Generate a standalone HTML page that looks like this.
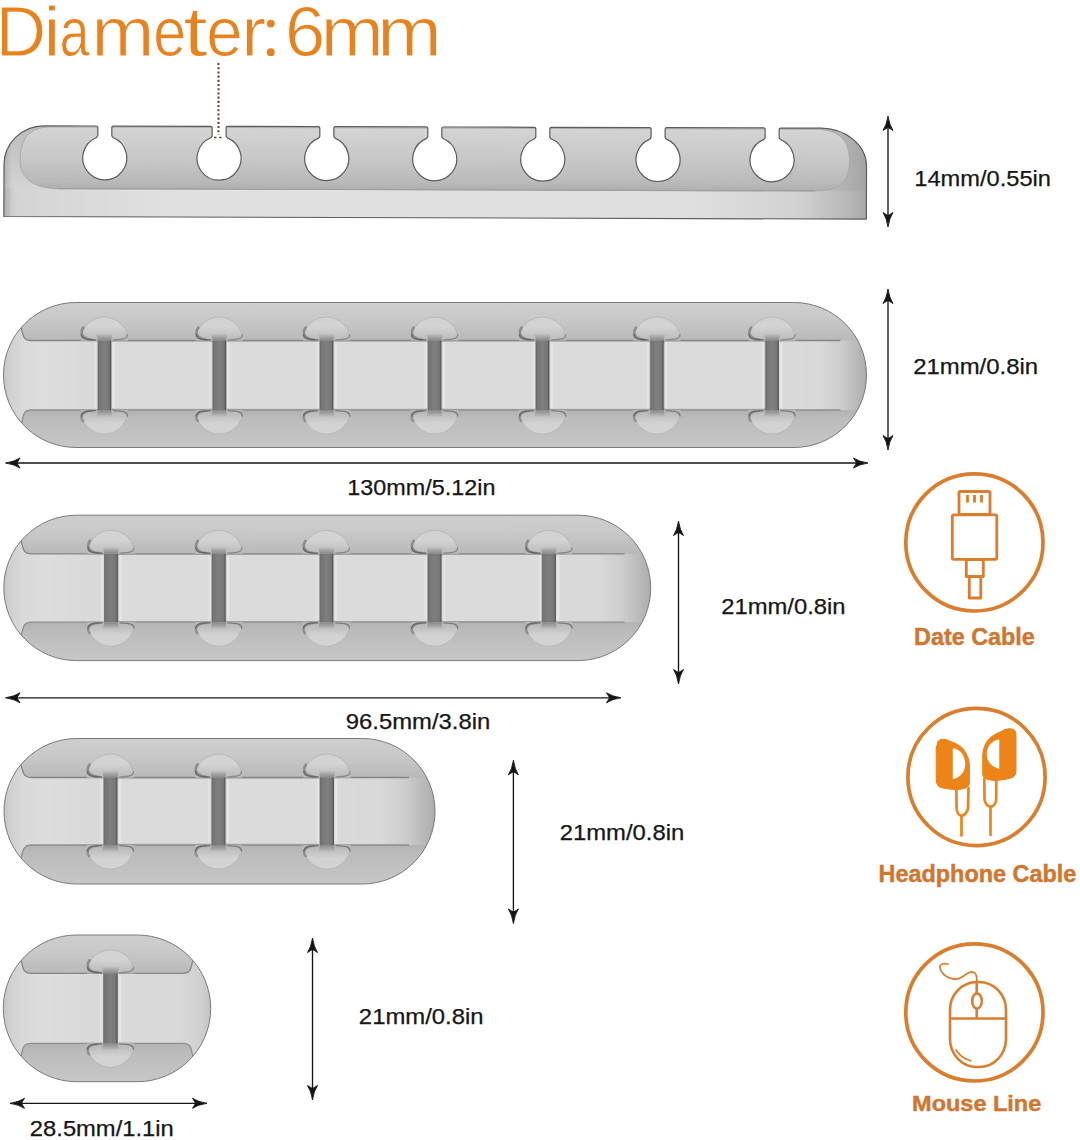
<!DOCTYPE html>
<html><head><meta charset="utf-8"><title>Cable Organizer Dimensions</title>
<style>
html,body{margin:0;padding:0;background:#ffffff;}
body{width:1080px;height:1140px;overflow:hidden;font-family:"Liberation Sans",sans-serif;}
svg{display:block;}
svg text{font-family:"Liberation Sans",sans-serif;}
</style></head>
<body>
<svg width="1080" height="1140" viewBox="0 0 1080 1140">
<defs>
<linearGradient id="rimV" x1="0" y1="0" x2="0" y2="1">
  <stop offset="0" stop-color="#cdcdcd"/>
  <stop offset="0.1" stop-color="#c8c8c8"/>
  <stop offset="0.26" stop-color="#b7b7b7"/>
  <stop offset="0.74" stop-color="#b2b2b2"/>
  <stop offset="0.8" stop-color="#b9b9b9"/>
  <stop offset="1" stop-color="#c4c4c4"/>
</linearGradient>
<linearGradient id="chanG" x1="0" y1="0" x2="1" y2="0">
  <stop offset="0" stop-color="#686868"/>
  <stop offset="0.12" stop-color="#757575"/>
  <stop offset="0.5" stop-color="#7f7f7f"/>
  <stop offset="0.85" stop-color="#767676"/>
  <stop offset="0.94" stop-color="#5c5c5c"/>
  <stop offset="1" stop-color="#505050"/>
</linearGradient>
<linearGradient id="domeT" x1="0" y1="0" x2="0" y2="1">
  <stop offset="0" stop-color="#d2d2d2"/>
  <stop offset="0.4" stop-color="#d4d4d4"/>
  <stop offset="1" stop-color="#bababa"/>
</linearGradient>
<linearGradient id="domeB" x1="0" y1="0" x2="0" y2="1">
  <stop offset="0" stop-color="#b4b4b4"/>
  <stop offset="0.55" stop-color="#d2d2d2"/>
  <stop offset="1" stop-color="#d4d4d4"/>
</linearGradient>
<linearGradient id="chanFadeT" x1="0" y1="0" x2="0" y2="1">
  <stop offset="0" stop-color="#8a8a8a" stop-opacity="0"/>
  <stop offset="1" stop-color="#8a8a8a" stop-opacity="1"/>
</linearGradient>
<linearGradient id="chanFadeB" x1="0" y1="1" x2="0" y2="0">
  <stop offset="0" stop-color="#8a8a8a" stop-opacity="0"/>
  <stop offset="1" stop-color="#8a8a8a" stop-opacity="1"/>
</linearGradient>
<linearGradient id="endL" x1="0" y1="0" x2="1" y2="0">
  <stop offset="0" stop-color="#c6c6c6"/>
  <stop offset="0.06" stop-color="#d0d0d0"/>
  <stop offset="0.2" stop-color="#d9d9d9"/>
  <stop offset="0.4" stop-color="#dddddd"/>
  <stop offset="1" stop-color="#d9d9d9"/>
</linearGradient>
<linearGradient id="endR" x1="0" y1="0" x2="1" y2="0">
  <stop offset="0" stop-color="#dadada"/>
  <stop offset="0.45" stop-color="#d9d9d9"/>
  <stop offset="0.7" stop-color="#cdcdcd"/>
  <stop offset="0.88" stop-color="#bababa"/>
  <stop offset="1" stop-color="#acacac"/>
</linearGradient>
<linearGradient id="endR5" x1="0" y1="0" x2="1" y2="0">
  <stop offset="0" stop-color="#dadada"/>
  <stop offset="0.6" stop-color="#dadada"/>
  <stop offset="0.9" stop-color="#d0d0d0"/>
  <stop offset="1" stop-color="#c2c2c2"/>
</linearGradient>
<linearGradient id="topFace" x1="0" y1="0" x2="0" y2="1">
  <stop offset="0" stop-color="#d4d4d4"/>
  <stop offset="0.5" stop-color="#c8c8c8"/>
  <stop offset="0.88" stop-color="#b9b9b9"/>
  <stop offset="1" stop-color="#afafaf"/>
</linearGradient>
<linearGradient id="sideBand" gradientUnits="userSpaceOnUse" x1="4" y1="0" x2="867" y2="0">
  <stop offset="0" stop-color="#c0c0c0"/>
  <stop offset="0.015" stop-color="#d4d4d4"/>
  <stop offset="0.2" stop-color="#e1e1e1"/>
  <stop offset="0.8" stop-color="#dfdfdf"/>
  <stop offset="0.92" stop-color="#d2d2d2"/>
  <stop offset="0.975" stop-color="#b9b9b9"/>
  <stop offset="1" stop-color="#a8a8a8"/>
</linearGradient>
<linearGradient id="lsV" x1="0" y1="0" x2="0" y2="1">
  <stop offset="0" stop-color="#bdbdbd"/>
  <stop offset="0.45" stop-color="#c6c6c6"/>
  <stop offset="1" stop-color="#d4d4d4"/>
</linearGradient>
<linearGradient id="rsH" x1="0" y1="0" x2="1" y2="0">
  <stop offset="0" stop-color="#c4c4c4"/>
  <stop offset="0.7" stop-color="#b4b4b4"/>
  <stop offset="1" stop-color="#a4a4a4"/>
</linearGradient>
<linearGradient id="ledge" x1="0" y1="0" x2="1" y2="0">
  <stop offset="0" stop-color="#b0b0b0" stop-opacity="0.9"/>
  <stop offset="1" stop-color="#b0b0b0" stop-opacity="0"/>
</linearGradient>
<linearGradient id="sideRim" gradientUnits="userSpaceOnUse" x1="4" y1="0" x2="867" y2="0">
  <stop offset="0" stop-color="#c6c6c6"/>
  <stop offset="0.03" stop-color="#cdcdcd"/>
  <stop offset="0.9" stop-color="#c4c4c4"/>
  <stop offset="0.96" stop-color="#b0b0b0"/>
  <stop offset="1" stop-color="#a4a4a4"/>
</linearGradient>
<clipPath id="ctop"><path d="M4,217.8 L4,166 A40,39 0 0 1 44,127 L96.2,127 Q97.7,127 97.7,128.5 L97.7,136.7433463853858 L96.5,138.44334638538578 A22,22 0 1 0 112.9,138.44334638538578 L111.7,136.7433463853858 L111.7,128.5 Q111.7,127 113.2,127 L210.5,127 Q212,127 212,128.5 L212,136.7433463853858 L210.8,138.44334638538578 A22,22 0 1 0 227.2,138.44334638538578 L226,136.7433463853858 L226,128.5 Q226,127 227.5,127 L318.2,127 Q319.7,127 319.7,128.5 L319.7,136.7433463853858 L318.5,138.44334638538578 A22,22 0 1 0 334.9,138.44334638538578 L333.7,136.7433463853858 L333.7,128.5 Q333.7,127 335.2,127 L426.2,127 Q427.7,127 427.7,128.5 L427.7,136.7433463853858 L426.5,138.44334638538578 A22,22 0 1 0 442.9,138.44334638538578 L441.7,136.7433463853858 L441.7,128.5 Q441.7,127 443.2,127 L534.2,127 Q535.7,127 535.7,128.5 L535.7,136.7433463853858 L534.5,138.44334638538578 A22,22 0 1 0 550.9000000000001,138.44334638538578 L549.7,136.7433463853858 L549.7,128.5 Q549.7,127 551.2,127 L649.5,127 Q651,127 651,128.5 L651,136.7433463853858 L649.8,138.44334638538578 A22,22 0 1 0 666.2,138.44334638538578 L665,136.7433463853858 L665,128.5 Q665,127 666.5,127 L763.5,127 Q765,127 765,128.5 L765,136.7433463853858 L763.8,138.44334638538578 A22,22 0 1 0 780.2,138.44334638538578 L779,136.7433463853858 L779,128.5 Q779,127 780.5,127 L820.5,127 A46,38 0 0 1 866.5,165 L866.5,217.8 Z"/></clipPath><linearGradient id="rim1" gradientUnits="userSpaceOnUse" x1="0" y1="302.5" x2="0" y2="447.5"><stop offset="0" stop-color="#cecece"/><stop offset="0.1" stop-color="#cacaca"/><stop offset="0.262" stop-color="#b9b9b9"/><stop offset="0.741" stop-color="#b2b2b2"/><stop offset="0.801" stop-color="#bbbbbb"/><stop offset="1" stop-color="#c7c7c7"/></linearGradient><clipPath id="cb1"><rect x="3.5" y="302.5" width="863.0" height="145.0" rx="72.5" ry="72.5"/></clipPath><linearGradient id="rim2" gradientUnits="userSpaceOnUse" x1="0" y1="515.2" x2="0" y2="660.6"><stop offset="0" stop-color="#cecece"/><stop offset="0.1" stop-color="#cacaca"/><stop offset="0.265" stop-color="#b9b9b9"/><stop offset="0.736" stop-color="#b2b2b2"/><stop offset="0.796" stop-color="#bbbbbb"/><stop offset="1" stop-color="#c7c7c7"/></linearGradient><clipPath id="cb2"><rect x="3.8" y="515.2" width="646.9000000000001" height="145.39999999999998" rx="72.69999999999999" ry="72.69999999999999"/></clipPath><linearGradient id="rim3" gradientUnits="userSpaceOnUse" x1="0" y1="738.5" x2="0" y2="884"><stop offset="0" stop-color="#cecece"/><stop offset="0.1" stop-color="#cacaca"/><stop offset="0.268" stop-color="#b9b9b9"/><stop offset="0.732" stop-color="#b2b2b2"/><stop offset="0.792" stop-color="#bbbbbb"/><stop offset="1" stop-color="#c7c7c7"/></linearGradient><clipPath id="cb3"><rect x="4" y="738.5" width="431" height="145.5" rx="72.75" ry="72.75"/></clipPath><linearGradient id="rim4" gradientUnits="userSpaceOnUse" x1="0" y1="935" x2="0" y2="1081.7"><stop offset="0" stop-color="#cecece"/><stop offset="0.1" stop-color="#cacaca"/><stop offset="0.261" stop-color="#b9b9b9"/><stop offset="0.738" stop-color="#b2b2b2"/><stop offset="0.798" stop-color="#bbbbbb"/><stop offset="1" stop-color="#c7c7c7"/></linearGradient><clipPath id="cb4"><rect x="3.3" y="935" width="207.39999999999998" height="146.70000000000005" rx="73.35000000000002" ry="73.35000000000002"/></clipPath></defs>
<rect width="1080" height="1140" fill="#ffffff"/>
<text x="-4.32" y="55.90" font-size="71" font-weight="normal" fill="#E8821F" textLength="50.36" lengthAdjust="spacingAndGlyphs" stroke="#ffffff" stroke-width="0.9">D</text>
<text x="43.15" y="55.90" font-size="69.5" font-weight="normal" fill="#E8821F" textLength="17.44" lengthAdjust="spacingAndGlyphs" stroke="#ffffff" stroke-width="0.9">i</text>
<text x="59.41" y="55.90" font-size="69.5" font-weight="normal" fill="#E8821F" textLength="29.99" lengthAdjust="spacingAndGlyphs" stroke="#ffffff" stroke-width="0.9">a</text>
<text x="91.49" y="55.90" font-size="69.5" font-weight="normal" fill="#E8821F" textLength="62.89" lengthAdjust="spacingAndGlyphs" stroke="#ffffff" stroke-width="0.9">m</text>
<text x="153.29" y="55.90" font-size="69.5" font-weight="normal" fill="#E8821F" textLength="32.83" lengthAdjust="spacingAndGlyphs" stroke="#ffffff" stroke-width="0.9">e</text>
<text x="183.37" y="55.90" font-size="69.5" font-weight="normal" fill="#E8821F" textLength="24.48" lengthAdjust="spacingAndGlyphs" stroke="#ffffff" stroke-width="0.9">t</text>
<text x="206.32" y="55.90" font-size="69.5" font-weight="normal" fill="#E8821F" textLength="36.39" lengthAdjust="spacingAndGlyphs" stroke="#ffffff" stroke-width="0.9">e</text>
<text x="241.23" y="55.90" font-size="69.5" font-weight="normal" fill="#E8821F" textLength="24.91" lengthAdjust="spacingAndGlyphs" stroke="#ffffff" stroke-width="0.9">r</text>
<text x="284.92" y="55.90" font-size="71" font-weight="normal" fill="#E8821F" textLength="40.26" lengthAdjust="spacingAndGlyphs" stroke="#ffffff" stroke-width="0.9">6</text>
<text x="320.68" y="55.90" font-size="69.5" font-weight="normal" fill="#E8821F" textLength="63.01" lengthAdjust="spacingAndGlyphs" stroke="#ffffff" stroke-width="0.9">m</text>
<text x="377.26" y="55.90" font-size="69.5" font-weight="normal" fill="#E8821F" textLength="64.44" lengthAdjust="spacingAndGlyphs" stroke="#ffffff" stroke-width="0.9">m</text>
<circle cx="270.8" cy="23.6" r="3.9" fill="#E8821F"/><circle cx="270.8" cy="52.2" r="3.9" fill="#E8821F"/>
<line x1="218.5" y1="63" x2="218.5" y2="135" stroke="#6a4834" stroke-width="2.1" stroke-dasharray="2.1 2.1"/>
<line x1="214" y1="137.5" x2="224" y2="137.5" stroke="#6a4834" stroke-width="1.6" stroke-dasharray="2.5 2.5"/>
<g transform="rotate(0.17 435 172)">
<path d="M4,217.8 L4,166 A40,39 0 0 1 44,127 L96.2,127 Q97.7,127 97.7,128.5 L97.7,136.7433463853858 L96.5,138.44334638538578 A22,22 0 1 0 112.9,138.44334638538578 L111.7,136.7433463853858 L111.7,128.5 Q111.7,127 113.2,127 L210.5,127 Q212,127 212,128.5 L212,136.7433463853858 L210.8,138.44334638538578 A22,22 0 1 0 227.2,138.44334638538578 L226,136.7433463853858 L226,128.5 Q226,127 227.5,127 L318.2,127 Q319.7,127 319.7,128.5 L319.7,136.7433463853858 L318.5,138.44334638538578 A22,22 0 1 0 334.9,138.44334638538578 L333.7,136.7433463853858 L333.7,128.5 Q333.7,127 335.2,127 L426.2,127 Q427.7,127 427.7,128.5 L427.7,136.7433463853858 L426.5,138.44334638538578 A22,22 0 1 0 442.9,138.44334638538578 L441.7,136.7433463853858 L441.7,128.5 Q441.7,127 443.2,127 L534.2,127 Q535.7,127 535.7,128.5 L535.7,136.7433463853858 L534.5,138.44334638538578 A22,22 0 1 0 550.9000000000001,138.44334638538578 L549.7,136.7433463853858 L549.7,128.5 Q549.7,127 551.2,127 L649.5,127 Q651,127 651,128.5 L651,136.7433463853858 L649.8,138.44334638538578 A22,22 0 1 0 666.2,138.44334638538578 L665,136.7433463853858 L665,128.5 Q665,127 666.5,127 L763.5,127 Q765,127 765,128.5 L765,136.7433463853858 L763.8,138.44334638538578 A22,22 0 1 0 780.2,138.44334638538578 L779,136.7433463853858 L779,128.5 Q779,127 780.5,127 L820.5,127 A46,38 0 0 1 866.5,165 L866.5,217.8 Z" fill="url(#sideBand)"/>
<g clip-path="url(#ctop)">
<rect x="4" y="127" width="70" height="62.5" fill="url(#lsV)"/>
<rect x="780" y="127" width="86.5" height="62.5" fill="url(#rsH)"/>
<rect x="4" y="127" width="8" height="90.80000000000001" fill="url(#ledge)"/>
<path d="M20,162 C20,141 28,128.3 50,128.1 L815,128.1 C840,128.1 849.5,140 849.5,160 C849.5,180 840,189.8 815,189.8 L58,189.8 C35,189.8 20,180 20,162 Z" fill="url(#topFace)"/>
<path d="M20,162 C20,141 28,128.3 50,128.1 L815,128.1 C840,128.1 849.5,140 849.5,160 C849.5,180 840,189.8 815,189.8 L58,189.8 C35,189.8 20,180 20,162 Z" fill="none" stroke="#a8a8a8" stroke-width="0.9"/>
<line x1="58" y1="189.8" x2="815" y2="189.8" stroke="#9e9e9e" stroke-width="1.2"/>
</g>
<path d="M4,217.8 L4,166 A40,39 0 0 1 44,127 L96.2,127 Q97.7,127 97.7,128.5 L97.7,136.7433463853858 L96.5,138.44334638538578 A22,22 0 1 0 112.9,138.44334638538578 L111.7,136.7433463853858 L111.7,128.5 Q111.7,127 113.2,127 L210.5,127 Q212,127 212,128.5 L212,136.7433463853858 L210.8,138.44334638538578 A22,22 0 1 0 227.2,138.44334638538578 L226,136.7433463853858 L226,128.5 Q226,127 227.5,127 L318.2,127 Q319.7,127 319.7,128.5 L319.7,136.7433463853858 L318.5,138.44334638538578 A22,22 0 1 0 334.9,138.44334638538578 L333.7,136.7433463853858 L333.7,128.5 Q333.7,127 335.2,127 L426.2,127 Q427.7,127 427.7,128.5 L427.7,136.7433463853858 L426.5,138.44334638538578 A22,22 0 1 0 442.9,138.44334638538578 L441.7,136.7433463853858 L441.7,128.5 Q441.7,127 443.2,127 L534.2,127 Q535.7,127 535.7,128.5 L535.7,136.7433463853858 L534.5,138.44334638538578 A22,22 0 1 0 550.9000000000001,138.44334638538578 L549.7,136.7433463853858 L549.7,128.5 Q549.7,127 551.2,127 L649.5,127 Q651,127 651,128.5 L651,136.7433463853858 L649.8,138.44334638538578 A22,22 0 1 0 666.2,138.44334638538578 L665,136.7433463853858 L665,128.5 Q665,127 666.5,127 L763.5,127 Q765,127 765,128.5 L765,136.7433463853858 L763.8,138.44334638538578 A22,22 0 1 0 780.2,138.44334638538578 L779,136.7433463853858 L779,128.5 Q779,127 780.5,127 L820.5,127 A46,38 0 0 1 866.5,165 L866.5,217.8 Z" fill="none" stroke="#5c5c5c" stroke-width="1.2" stroke-linejoin="round"/>
</g>
<line x1="888" y1="124" x2="888" y2="219" stroke="#161616" stroke-width="1.35"/>
<path d="M888,116 Q889.30,124.99 893.00,130.50 Q889.20,128.00 888.00,127.50 Q886.80,128.00 883.00,130.50 Q886.70,124.99 888,116 Z" fill="#141414" stroke="#141414" stroke-width="0.9" stroke-linejoin="round"/>
<path d="M888,227 Q886.70,218.01 883.00,212.50 Q886.80,215.00 888.00,215.50 Q889.20,215.00 893.00,212.50 Q889.30,218.01 888,227 Z" fill="#141414" stroke="#141414" stroke-width="0.9" stroke-linejoin="round"/>
<text x="914.32" y="185.90" font-size="22.5" font-weight="normal" fill="#161616" textLength="136.71" lengthAdjust="spacingAndGlyphs" stroke="#161616" stroke-width="0.25">14mm/0.55in</text>
<g clip-path="url(#cb1)">
<rect x="3.5" y="302.5" width="863.0" height="145.0" fill="#d9d9d9"/>
<rect x="3.5" y="302.5" width="94.1" height="145.0" fill="url(#endL)"/>
<rect x="778.9" y="302.5" width="87.60000000000002" height="145.0" fill="url(#endR)"/>
<path d="M31.5,340.5 C23.5,340.5 23.227744249483386,336.5 21.23,327.5 L9.23,313.5 L-1.5,297.5 L871.5,297.5 L871.5,340.5 Z" fill="url(#rim1)"/>
<path d="M31.5,410 C23.5,410 23.66538856308992,414 21.67,423 L9.67,437 L-1.5,452.5 L871.5,452.5 L871.5,410 Z" fill="url(#rim1)"/>
<path d="M21.23,327.5 C23.227744249483386,336.5 23.5,340.5 31.5,340.5 L840.5,340.5" fill="none" stroke="#858585" stroke-width="1.3"/>
<path d="M21.67,423 C23.66538856308992,414 23.5,410 31.5,410 L840.5,410" fill="none" stroke="#8e8e8e" stroke-width="1.3"/>
<path d="M80.9,340.5 C80.9,327.5 91.4,317.0 104.4,317.0 C117.4,317.0 127.9,327.5 127.9,340.5 Z" fill="url(#domeT)" stroke="#b2b2b2" stroke-width="0.8"/>
<path d="M83.4,327.5 C79.9,332.5 81.4,339.0 91.4,339.7" fill="none" stroke="#8c8c8c" stroke-width="2.6" stroke-linecap="round"/>
<path d="M81.4,334.5 C81.4,338.5 85.4,339.7 95.4,339.9" fill="none" stroke="#686868" stroke-width="1.4" stroke-linecap="round"/>
<path d="M127.4,334.5 C127.4,338.5 123.4,339.7 113.4,339.9" fill="none" stroke="#8a8a8a" stroke-width="1.2" stroke-linecap="round"/>
<path d="M80.9,410 C80.9,423 91.4,434 104.4,434 C117.4,434 127.9,423 127.9,410 Z" fill="url(#domeB)" stroke="#b6b6b6" stroke-width="0.8"/>
<path d="M82.9,421 C79.9,417 81.4,411.5 91.4,410.8" fill="none" stroke="#909090" stroke-width="2.4" stroke-linecap="round"/>
<path d="M81.4,416 C81.4,412 85.4,410.8 95.4,410.6" fill="none" stroke="#6c6c6c" stroke-width="1.4" stroke-linecap="round"/>
<path d="M127.4,416 C127.4,412 123.4,410.8 113.4,410.6" fill="none" stroke="#7c7c7c" stroke-width="1.3" stroke-linecap="round"/>
<path d="M195.8,340.5 C195.8,327.5 206.3,317.0 219.3,317.0 C232.3,317.0 242.8,327.5 242.8,340.5 Z" fill="url(#domeT)" stroke="#b2b2b2" stroke-width="0.8"/>
<path d="M198.3,327.5 C194.8,332.5 196.3,339.0 206.3,339.7" fill="none" stroke="#8c8c8c" stroke-width="2.6" stroke-linecap="round"/>
<path d="M196.3,334.5 C196.3,338.5 200.3,339.7 210.3,339.9" fill="none" stroke="#686868" stroke-width="1.4" stroke-linecap="round"/>
<path d="M242.3,334.5 C242.3,338.5 238.3,339.7 228.3,339.9" fill="none" stroke="#8a8a8a" stroke-width="1.2" stroke-linecap="round"/>
<path d="M195.8,410 C195.8,423 206.3,434 219.3,434 C232.3,434 242.8,423 242.8,410 Z" fill="url(#domeB)" stroke="#b6b6b6" stroke-width="0.8"/>
<path d="M197.8,421 C194.8,417 196.3,411.5 206.3,410.8" fill="none" stroke="#909090" stroke-width="2.4" stroke-linecap="round"/>
<path d="M196.3,416 C196.3,412 200.3,410.8 210.3,410.6" fill="none" stroke="#6c6c6c" stroke-width="1.4" stroke-linecap="round"/>
<path d="M242.3,416 C242.3,412 238.3,410.8 228.3,410.6" fill="none" stroke="#7c7c7c" stroke-width="1.3" stroke-linecap="round"/>
<path d="M303.1,340.5 C303.1,327.5 313.6,317.0 326.6,317.0 C339.6,317.0 350.1,327.5 350.1,340.5 Z" fill="url(#domeT)" stroke="#b2b2b2" stroke-width="0.8"/>
<path d="M305.6,327.5 C302.1,332.5 303.6,339.0 313.6,339.7" fill="none" stroke="#8c8c8c" stroke-width="2.6" stroke-linecap="round"/>
<path d="M303.6,334.5 C303.6,338.5 307.6,339.7 317.6,339.9" fill="none" stroke="#686868" stroke-width="1.4" stroke-linecap="round"/>
<path d="M349.6,334.5 C349.6,338.5 345.6,339.7 335.6,339.9" fill="none" stroke="#8a8a8a" stroke-width="1.2" stroke-linecap="round"/>
<path d="M303.1,410 C303.1,423 313.6,434 326.6,434 C339.6,434 350.1,423 350.1,410 Z" fill="url(#domeB)" stroke="#b6b6b6" stroke-width="0.8"/>
<path d="M305.1,421 C302.1,417 303.6,411.5 313.6,410.8" fill="none" stroke="#909090" stroke-width="2.4" stroke-linecap="round"/>
<path d="M303.6,416 C303.6,412 307.6,410.8 317.6,410.6" fill="none" stroke="#6c6c6c" stroke-width="1.4" stroke-linecap="round"/>
<path d="M349.6,416 C349.6,412 345.6,410.8 335.6,410.6" fill="none" stroke="#7c7c7c" stroke-width="1.3" stroke-linecap="round"/>
<path d="M411.2,340.5 C411.2,327.5 421.7,317.0 434.7,317.0 C447.7,317.0 458.2,327.5 458.2,340.5 Z" fill="url(#domeT)" stroke="#b2b2b2" stroke-width="0.8"/>
<path d="M413.7,327.5 C410.2,332.5 411.7,339.0 421.7,339.7" fill="none" stroke="#8c8c8c" stroke-width="2.6" stroke-linecap="round"/>
<path d="M411.7,334.5 C411.7,338.5 415.7,339.7 425.7,339.9" fill="none" stroke="#686868" stroke-width="1.4" stroke-linecap="round"/>
<path d="M457.7,334.5 C457.7,338.5 453.7,339.7 443.7,339.9" fill="none" stroke="#8a8a8a" stroke-width="1.2" stroke-linecap="round"/>
<path d="M411.2,410 C411.2,423 421.7,434 434.7,434 C447.7,434 458.2,423 458.2,410 Z" fill="url(#domeB)" stroke="#b6b6b6" stroke-width="0.8"/>
<path d="M413.2,421 C410.2,417 411.7,411.5 421.7,410.8" fill="none" stroke="#909090" stroke-width="2.4" stroke-linecap="round"/>
<path d="M411.7,416 C411.7,412 415.7,410.8 425.7,410.6" fill="none" stroke="#6c6c6c" stroke-width="1.4" stroke-linecap="round"/>
<path d="M457.7,416 C457.7,412 453.7,410.8 443.7,410.6" fill="none" stroke="#7c7c7c" stroke-width="1.3" stroke-linecap="round"/>
<path d="M519.1,340.5 C519.1,327.5 529.6,317.0 542.6,317.0 C555.6,317.0 566.1,327.5 566.1,340.5 Z" fill="url(#domeT)" stroke="#b2b2b2" stroke-width="0.8"/>
<path d="M521.6,327.5 C518.1,332.5 519.6,339.0 529.6,339.7" fill="none" stroke="#8c8c8c" stroke-width="2.6" stroke-linecap="round"/>
<path d="M519.6,334.5 C519.6,338.5 523.6,339.7 533.6,339.9" fill="none" stroke="#686868" stroke-width="1.4" stroke-linecap="round"/>
<path d="M565.6,334.5 C565.6,338.5 561.6,339.7 551.6,339.9" fill="none" stroke="#8a8a8a" stroke-width="1.2" stroke-linecap="round"/>
<path d="M519.1,410 C519.1,423 529.6,434 542.6,434 C555.6,434 566.1,423 566.1,410 Z" fill="url(#domeB)" stroke="#b6b6b6" stroke-width="0.8"/>
<path d="M521.1,421 C518.1,417 519.6,411.5 529.6,410.8" fill="none" stroke="#909090" stroke-width="2.4" stroke-linecap="round"/>
<path d="M519.6,416 C519.6,412 523.6,410.8 533.6,410.6" fill="none" stroke="#6c6c6c" stroke-width="1.4" stroke-linecap="round"/>
<path d="M565.6,416 C565.6,412 561.6,410.8 551.6,410.6" fill="none" stroke="#7c7c7c" stroke-width="1.3" stroke-linecap="round"/>
<path d="M633.5,340.5 C633.5,327.5 644,317.0 657,317.0 C670,317.0 680.5,327.5 680.5,340.5 Z" fill="url(#domeT)" stroke="#b2b2b2" stroke-width="0.8"/>
<path d="M636,327.5 C632.5,332.5 634,339.0 644,339.7" fill="none" stroke="#8c8c8c" stroke-width="2.6" stroke-linecap="round"/>
<path d="M634,334.5 C634,338.5 638,339.7 648,339.9" fill="none" stroke="#686868" stroke-width="1.4" stroke-linecap="round"/>
<path d="M680,334.5 C680,338.5 676,339.7 666,339.9" fill="none" stroke="#8a8a8a" stroke-width="1.2" stroke-linecap="round"/>
<path d="M633.5,410 C633.5,423 644,434 657,434 C670,434 680.5,423 680.5,410 Z" fill="url(#domeB)" stroke="#b6b6b6" stroke-width="0.8"/>
<path d="M635.5,421 C632.5,417 634,411.5 644,410.8" fill="none" stroke="#909090" stroke-width="2.4" stroke-linecap="round"/>
<path d="M634,416 C634,412 638,410.8 648,410.6" fill="none" stroke="#6c6c6c" stroke-width="1.4" stroke-linecap="round"/>
<path d="M680,416 C680,412 676,410.8 666,410.6" fill="none" stroke="#7c7c7c" stroke-width="1.3" stroke-linecap="round"/>
<path d="M748.6,340.5 C748.6,327.5 759.1,317.0 772.1,317.0 C785.1,317.0 795.6,327.5 795.6,340.5 Z" fill="url(#domeT)" stroke="#b2b2b2" stroke-width="0.8"/>
<path d="M751.1,327.5 C747.6,332.5 749.1,339.0 759.1,339.7" fill="none" stroke="#8c8c8c" stroke-width="2.6" stroke-linecap="round"/>
<path d="M749.1,334.5 C749.1,338.5 753.1,339.7 763.1,339.9" fill="none" stroke="#686868" stroke-width="1.4" stroke-linecap="round"/>
<path d="M795.1,334.5 C795.1,338.5 791.1,339.7 781.1,339.9" fill="none" stroke="#8a8a8a" stroke-width="1.2" stroke-linecap="round"/>
<path d="M748.6,410 C748.6,423 759.1,434 772.1,434 C785.1,434 795.6,423 795.6,410 Z" fill="url(#domeB)" stroke="#b6b6b6" stroke-width="0.8"/>
<path d="M750.6,421 C747.6,417 749.1,411.5 759.1,410.8" fill="none" stroke="#909090" stroke-width="2.4" stroke-linecap="round"/>
<path d="M749.1,416 C749.1,412 753.1,410.8 763.1,410.6" fill="none" stroke="#6c6c6c" stroke-width="1.4" stroke-linecap="round"/>
<path d="M795.1,416 C795.1,412 791.1,410.8 781.1,410.6" fill="none" stroke="#7c7c7c" stroke-width="1.3" stroke-linecap="round"/>
<path d="M97.6,340.5 L96.39999999999999,333.5 L112.4,333.5 L111.2,340.5 Z" fill="url(#chanFadeT)"/>
<path d="M97.6,410 L96.39999999999999,417 L112.4,417 L111.2,410 Z" fill="url(#chanFadeB)"/>
<rect x="97.6" y="340.5" width="13.600000000000009" height="69.5" fill="url(#chanG)"/>
<path d="M212.5,340.5 L211.3,333.5 L227.29999999999998,333.5 L226.1,340.5 Z" fill="url(#chanFadeT)"/>
<path d="M212.5,410 L211.3,417 L227.29999999999998,417 L226.1,410 Z" fill="url(#chanFadeB)"/>
<rect x="212.5" y="340.5" width="13.599999999999994" height="69.5" fill="url(#chanG)"/>
<path d="M319.8,340.5 L318.6,333.5 L334.59999999999997,333.5 L333.4,340.5 Z" fill="url(#chanFadeT)"/>
<path d="M319.8,410 L318.6,417 L334.59999999999997,417 L333.4,410 Z" fill="url(#chanFadeB)"/>
<rect x="319.8" y="340.5" width="13.599999999999966" height="69.5" fill="url(#chanG)"/>
<path d="M427.9,340.5 L426.7,333.5 L442.7,333.5 L441.5,340.5 Z" fill="url(#chanFadeT)"/>
<path d="M427.9,410 L426.7,417 L442.7,417 L441.5,410 Z" fill="url(#chanFadeB)"/>
<rect x="427.9" y="340.5" width="13.600000000000023" height="69.5" fill="url(#chanG)"/>
<path d="M535.8,340.5 L534.5999999999999,333.5 L550.6,333.5 L549.4,340.5 Z" fill="url(#chanFadeT)"/>
<path d="M535.8,410 L534.5999999999999,417 L550.6,417 L549.4,410 Z" fill="url(#chanFadeB)"/>
<rect x="535.8" y="340.5" width="13.600000000000023" height="69.5" fill="url(#chanG)"/>
<path d="M650.2,340.5 L649.0,333.5 L665.0,333.5 L663.8,340.5 Z" fill="url(#chanFadeT)"/>
<path d="M650.2,410 L649.0,417 L665.0,417 L663.8,410 Z" fill="url(#chanFadeB)"/>
<rect x="650.2" y="340.5" width="13.599999999999909" height="69.5" fill="url(#chanG)"/>
<path d="M765.3,340.5 L764.0999999999999,333.5 L780.1,333.5 L778.9,340.5 Z" fill="url(#chanFadeT)"/>
<path d="M765.3,410 L764.0999999999999,417 L780.1,417 L778.9,410 Z" fill="url(#chanFadeB)"/>
<rect x="765.3" y="340.5" width="13.600000000000023" height="69.5" fill="url(#chanG)"/>
<rect x="111.5" y="341.2" width="100.7" height="68.1" rx="1.6" fill="#dbdbdb" stroke="#8a8a8a" stroke-width="0.6"/>
<rect x="226.4" y="341.2" width="93.10000000000002" height="68.1" rx="1.6" fill="#dbdbdb" stroke="#8a8a8a" stroke-width="0.6"/>
<rect x="333.7" y="341.2" width="93.9" height="68.1" rx="1.6" fill="#dbdbdb" stroke="#8a8a8a" stroke-width="0.6"/>
<rect x="441.8" y="341.2" width="93.69999999999996" height="68.1" rx="1.6" fill="#dbdbdb" stroke="#8a8a8a" stroke-width="0.6"/>
<rect x="549.6999999999999" y="341.2" width="100.20000000000007" height="68.1" rx="1.6" fill="#dbdbdb" stroke="#8a8a8a" stroke-width="0.6"/>
<rect x="664.0999999999999" y="341.2" width="100.9" height="68.1" rx="1.6" fill="#dbdbdb" stroke="#8a8a8a" stroke-width="0.6"/>
<rect x="94.39999999999999" y="342.5" width="2.2" height="65.5" fill="#e4e4e4"/>
<rect x="112.2" y="342.5" width="2.4" height="65.5" fill="#e6e6e6"/>
<rect x="209.3" y="342.5" width="2.2" height="65.5" fill="#e4e4e4"/>
<rect x="227.1" y="342.5" width="2.4" height="65.5" fill="#e6e6e6"/>
<rect x="316.6" y="342.5" width="2.2" height="65.5" fill="#e4e4e4"/>
<rect x="334.4" y="342.5" width="2.4" height="65.5" fill="#e6e6e6"/>
<rect x="424.7" y="342.5" width="2.2" height="65.5" fill="#e4e4e4"/>
<rect x="442.5" y="342.5" width="2.4" height="65.5" fill="#e6e6e6"/>
<rect x="532.5999999999999" y="342.5" width="2.2" height="65.5" fill="#e4e4e4"/>
<rect x="550.4" y="342.5" width="2.4" height="65.5" fill="#e6e6e6"/>
<rect x="647.0" y="342.5" width="2.2" height="65.5" fill="#e4e4e4"/>
<rect x="664.8" y="342.5" width="2.4" height="65.5" fill="#e6e6e6"/>
<rect x="762.0999999999999" y="342.5" width="2.2" height="65.5" fill="#e4e4e4"/>
<rect x="779.9" y="342.5" width="2.4" height="65.5" fill="#e6e6e6"/>
</g>
<rect x="3.5" y="302.5" width="863.0" height="145.0" rx="72.5" ry="72.5" fill="none" stroke="#7c7c7c" stroke-width="1"/>
<line x1="888" y1="297" x2="888" y2="442" stroke="#161616" stroke-width="1.35"/>
<path d="M888,289 Q889.30,297.99 893.00,303.50 Q889.20,301.00 888.00,300.50 Q886.80,301.00 883.00,303.50 Q886.70,297.99 888,289 Z" fill="#141414" stroke="#141414" stroke-width="0.9" stroke-linejoin="round"/>
<path d="M888,450 Q886.70,441.01 883.00,435.50 Q886.80,438.00 888.00,438.50 Q889.20,438.00 893.00,435.50 Q889.30,441.01 888,450 Z" fill="#141414" stroke="#141414" stroke-width="0.9" stroke-linejoin="round"/>
<text x="913.18" y="374.00" font-size="22.5" font-weight="normal" fill="#161616" textLength="124.86" lengthAdjust="spacingAndGlyphs" stroke="#161616" stroke-width="0.25">21mm/0.8in</text>
<line x1="13.5" y1="463" x2="860" y2="463" stroke="#161616" stroke-width="1.35"/>
<path d="M5.5,463 Q14.49,461.70 20.00,458.00 Q17.50,461.80 17.00,463.00 Q17.50,464.20 20.00,468.00 Q14.49,464.30 5.5,463 Z" fill="#141414" stroke="#141414" stroke-width="0.9" stroke-linejoin="round"/>
<path d="M868,463 Q859.01,464.30 853.50,468.00 Q856.00,464.20 856.50,463.00 Q856.00,461.80 853.50,458.00 Q859.01,461.70 868,463 Z" fill="#141414" stroke="#141414" stroke-width="0.9" stroke-linejoin="round"/>
<text x="347.34" y="494.70" font-size="22.5" font-weight="normal" fill="#161616" textLength="148.07" lengthAdjust="spacingAndGlyphs" stroke="#161616" stroke-width="0.25">130mm/5.12in</text>
<g clip-path="url(#cb2)">
<rect x="3.8" y="515.2" width="646.9000000000001" height="145.39999999999998" fill="#d9d9d9"/>
<rect x="3.8" y="515.2" width="100.3" height="145.39999999999998" fill="url(#endL)"/>
<rect x="555.9" y="515.2" width="94.80000000000007" height="145.39999999999998" fill="url(#endR)"/>
<path d="M31.8,553.8 C23.8,553.8 23.120581440394425,549.8 21.12,540.8 L9.12,526.8 L-1.2000000000000002,510.20000000000005 L655.7,510.20000000000005 L655.7,553.8 Z" fill="url(#rim2)"/>
<path d="M31.8,622.2 C23.8,622.2 23.291305032630923,626.2 21.29,635.2 L9.29,649.2 L-1.2000000000000002,665.6 L655.7,665.6 L655.7,622.2 Z" fill="url(#rim2)"/>
<path d="M21.12,540.8 C23.120581440394425,549.8 23.8,553.8 31.8,553.8 L624.7,553.8" fill="none" stroke="#858585" stroke-width="1.3"/>
<path d="M21.29,635.2 C23.291305032630923,626.2 23.8,622.2 31.8,622.2 L624.7,622.2" fill="none" stroke="#8e8e8e" stroke-width="1.3"/>
<path d="M87.5,553.8 C87.5,540.8 98,530.3 111,530.3 C124,530.3 134.5,540.8 134.5,553.8 Z" fill="url(#domeT)" stroke="#b2b2b2" stroke-width="0.8"/>
<path d="M90,540.8 C86.5,545.8 88,552.3 98,553.0" fill="none" stroke="#8c8c8c" stroke-width="2.6" stroke-linecap="round"/>
<path d="M88,547.8 C88,551.8 92,553.0 102,553.1999999999999" fill="none" stroke="#686868" stroke-width="1.4" stroke-linecap="round"/>
<path d="M134,547.8 C134,551.8 130,553.0 120,553.1999999999999" fill="none" stroke="#8a8a8a" stroke-width="1.2" stroke-linecap="round"/>
<path d="M87.5,622.2 C87.5,635.2 98,646.2 111,646.2 C124,646.2 134.5,635.2 134.5,622.2 Z" fill="url(#domeB)" stroke="#b6b6b6" stroke-width="0.8"/>
<path d="M89.5,633.2 C86.5,629.2 88,623.7 98,623.0" fill="none" stroke="#909090" stroke-width="2.4" stroke-linecap="round"/>
<path d="M88,628.2 C88,624.2 92,623.0 102,622.8000000000001" fill="none" stroke="#6c6c6c" stroke-width="1.4" stroke-linecap="round"/>
<path d="M134,628.2 C134,624.2 130,623.0 120,622.8000000000001" fill="none" stroke="#7c7c7c" stroke-width="1.3" stroke-linecap="round"/>
<path d="M195.3,553.8 C195.3,540.8 205.8,530.3 218.8,530.3 C231.8,530.3 242.3,540.8 242.3,553.8 Z" fill="url(#domeT)" stroke="#b2b2b2" stroke-width="0.8"/>
<path d="M197.8,540.8 C194.3,545.8 195.8,552.3 205.8,553.0" fill="none" stroke="#8c8c8c" stroke-width="2.6" stroke-linecap="round"/>
<path d="M195.8,547.8 C195.8,551.8 199.8,553.0 209.8,553.1999999999999" fill="none" stroke="#686868" stroke-width="1.4" stroke-linecap="round"/>
<path d="M241.8,547.8 C241.8,551.8 237.8,553.0 227.8,553.1999999999999" fill="none" stroke="#8a8a8a" stroke-width="1.2" stroke-linecap="round"/>
<path d="M195.3,622.2 C195.3,635.2 205.8,646.2 218.8,646.2 C231.8,646.2 242.3,635.2 242.3,622.2 Z" fill="url(#domeB)" stroke="#b6b6b6" stroke-width="0.8"/>
<path d="M197.3,633.2 C194.3,629.2 195.8,623.7 205.8,623.0" fill="none" stroke="#909090" stroke-width="2.4" stroke-linecap="round"/>
<path d="M195.8,628.2 C195.8,624.2 199.8,623.0 209.8,622.8000000000001" fill="none" stroke="#6c6c6c" stroke-width="1.4" stroke-linecap="round"/>
<path d="M241.8,628.2 C241.8,624.2 237.8,623.0 227.8,622.8000000000001" fill="none" stroke="#7c7c7c" stroke-width="1.3" stroke-linecap="round"/>
<path d="M303.0,553.8 C303.0,540.8 313.5,530.3 326.5,530.3 C339.5,530.3 350.0,540.8 350.0,553.8 Z" fill="url(#domeT)" stroke="#b2b2b2" stroke-width="0.8"/>
<path d="M305.5,540.8 C302.0,545.8 303.5,552.3 313.5,553.0" fill="none" stroke="#8c8c8c" stroke-width="2.6" stroke-linecap="round"/>
<path d="M303.5,547.8 C303.5,551.8 307.5,553.0 317.5,553.1999999999999" fill="none" stroke="#686868" stroke-width="1.4" stroke-linecap="round"/>
<path d="M349.5,547.8 C349.5,551.8 345.5,553.0 335.5,553.1999999999999" fill="none" stroke="#8a8a8a" stroke-width="1.2" stroke-linecap="round"/>
<path d="M303.0,622.2 C303.0,635.2 313.5,646.2 326.5,646.2 C339.5,646.2 350.0,635.2 350.0,622.2 Z" fill="url(#domeB)" stroke="#b6b6b6" stroke-width="0.8"/>
<path d="M305.0,633.2 C302.0,629.2 303.5,623.7 313.5,623.0" fill="none" stroke="#909090" stroke-width="2.4" stroke-linecap="round"/>
<path d="M303.5,628.2 C303.5,624.2 307.5,623.0 317.5,622.8000000000001" fill="none" stroke="#6c6c6c" stroke-width="1.4" stroke-linecap="round"/>
<path d="M349.5,628.2 C349.5,624.2 345.5,623.0 335.5,622.8000000000001" fill="none" stroke="#7c7c7c" stroke-width="1.3" stroke-linecap="round"/>
<path d="M411.2,553.8 C411.2,540.8 421.7,530.3 434.7,530.3 C447.7,530.3 458.2,540.8 458.2,553.8 Z" fill="url(#domeT)" stroke="#b2b2b2" stroke-width="0.8"/>
<path d="M413.7,540.8 C410.2,545.8 411.7,552.3 421.7,553.0" fill="none" stroke="#8c8c8c" stroke-width="2.6" stroke-linecap="round"/>
<path d="M411.7,547.8 C411.7,551.8 415.7,553.0 425.7,553.1999999999999" fill="none" stroke="#686868" stroke-width="1.4" stroke-linecap="round"/>
<path d="M457.7,547.8 C457.7,551.8 453.7,553.0 443.7,553.1999999999999" fill="none" stroke="#8a8a8a" stroke-width="1.2" stroke-linecap="round"/>
<path d="M411.2,622.2 C411.2,635.2 421.7,646.2 434.7,646.2 C447.7,646.2 458.2,635.2 458.2,622.2 Z" fill="url(#domeB)" stroke="#b6b6b6" stroke-width="0.8"/>
<path d="M413.2,633.2 C410.2,629.2 411.7,623.7 421.7,623.0" fill="none" stroke="#909090" stroke-width="2.4" stroke-linecap="round"/>
<path d="M411.7,628.2 C411.7,624.2 415.7,623.0 425.7,622.8000000000001" fill="none" stroke="#6c6c6c" stroke-width="1.4" stroke-linecap="round"/>
<path d="M457.7,628.2 C457.7,624.2 453.7,623.0 443.7,622.8000000000001" fill="none" stroke="#7c7c7c" stroke-width="1.3" stroke-linecap="round"/>
<path d="M525.5,553.8 C525.5,540.8 536,530.3 549,530.3 C562,530.3 572.5,540.8 572.5,553.8 Z" fill="url(#domeT)" stroke="#b2b2b2" stroke-width="0.8"/>
<path d="M528,540.8 C524.5,545.8 526,552.3 536,553.0" fill="none" stroke="#8c8c8c" stroke-width="2.6" stroke-linecap="round"/>
<path d="M526,547.8 C526,551.8 530,553.0 540,553.1999999999999" fill="none" stroke="#686868" stroke-width="1.4" stroke-linecap="round"/>
<path d="M572,547.8 C572,551.8 568,553.0 558,553.1999999999999" fill="none" stroke="#8a8a8a" stroke-width="1.2" stroke-linecap="round"/>
<path d="M525.5,622.2 C525.5,635.2 536,646.2 549,646.2 C562,646.2 572.5,635.2 572.5,622.2 Z" fill="url(#domeB)" stroke="#b6b6b6" stroke-width="0.8"/>
<path d="M527.5,633.2 C524.5,629.2 526,623.7 536,623.0" fill="none" stroke="#909090" stroke-width="2.4" stroke-linecap="round"/>
<path d="M526,628.2 C526,624.2 530,623.0 540,622.8000000000001" fill="none" stroke="#6c6c6c" stroke-width="1.4" stroke-linecap="round"/>
<path d="M572,628.2 C572,624.2 568,623.0 558,622.8000000000001" fill="none" stroke="#7c7c7c" stroke-width="1.3" stroke-linecap="round"/>
<path d="M104.1,553.8 L102.89999999999999,546.8 L119.10000000000001,546.8 L117.9,553.8 Z" fill="url(#chanFadeT)"/>
<path d="M104.1,622.2 L102.89999999999999,629.2 L119.10000000000001,629.2 L117.9,622.2 Z" fill="url(#chanFadeB)"/>
<rect x="104.1" y="553.8" width="13.800000000000011" height="68.40000000000009" fill="url(#chanG)"/>
<path d="M211.9,553.8 L210.70000000000002,546.8 L226.89999999999998,546.8 L225.7,553.8 Z" fill="url(#chanFadeT)"/>
<path d="M211.9,622.2 L210.70000000000002,629.2 L226.89999999999998,629.2 L225.7,622.2 Z" fill="url(#chanFadeB)"/>
<rect x="211.9" y="553.8" width="13.799999999999983" height="68.40000000000009" fill="url(#chanG)"/>
<path d="M319.6,553.8 L318.40000000000003,546.8 L334.59999999999997,546.8 L333.4,553.8 Z" fill="url(#chanFadeT)"/>
<path d="M319.6,622.2 L318.40000000000003,629.2 L334.59999999999997,629.2 L333.4,622.2 Z" fill="url(#chanFadeB)"/>
<rect x="319.6" y="553.8" width="13.799999999999955" height="68.40000000000009" fill="url(#chanG)"/>
<path d="M427.8,553.8 L426.6,546.8 L442.8,546.8 L441.6,553.8 Z" fill="url(#chanFadeT)"/>
<path d="M427.8,622.2 L426.6,629.2 L442.8,629.2 L441.6,622.2 Z" fill="url(#chanFadeB)"/>
<rect x="427.8" y="553.8" width="13.800000000000011" height="68.40000000000009" fill="url(#chanG)"/>
<path d="M542.1,553.8 L540.9,546.8 L557.1,546.8 L555.9,553.8 Z" fill="url(#chanFadeT)"/>
<path d="M542.1,622.2 L540.9,629.2 L557.1,629.2 L555.9,622.2 Z" fill="url(#chanFadeB)"/>
<rect x="542.1" y="553.8" width="13.799999999999955" height="68.40000000000009" fill="url(#chanG)"/>
<rect x="118.2" y="554.5" width="93.4" height="67.00000000000009" rx="1.6" fill="#dbdbdb" stroke="#8a8a8a" stroke-width="0.6"/>
<rect x="226.0" y="554.5" width="93.30000000000004" height="67.00000000000009" rx="1.6" fill="#dbdbdb" stroke="#8a8a8a" stroke-width="0.6"/>
<rect x="333.7" y="554.5" width="93.80000000000004" height="67.00000000000009" rx="1.6" fill="#dbdbdb" stroke="#8a8a8a" stroke-width="0.6"/>
<rect x="441.90000000000003" y="554.5" width="99.9" height="67.00000000000009" rx="1.6" fill="#dbdbdb" stroke="#8a8a8a" stroke-width="0.6"/>
<rect x="100.89999999999999" y="555.8" width="2.2" height="64.40000000000009" fill="#e4e4e4"/>
<rect x="118.9" y="555.8" width="2.4" height="64.40000000000009" fill="#e6e6e6"/>
<rect x="208.70000000000002" y="555.8" width="2.2" height="64.40000000000009" fill="#e4e4e4"/>
<rect x="226.7" y="555.8" width="2.4" height="64.40000000000009" fill="#e6e6e6"/>
<rect x="316.40000000000003" y="555.8" width="2.2" height="64.40000000000009" fill="#e4e4e4"/>
<rect x="334.4" y="555.8" width="2.4" height="64.40000000000009" fill="#e6e6e6"/>
<rect x="424.6" y="555.8" width="2.2" height="64.40000000000009" fill="#e4e4e4"/>
<rect x="442.6" y="555.8" width="2.4" height="64.40000000000009" fill="#e6e6e6"/>
<rect x="538.9" y="555.8" width="2.2" height="64.40000000000009" fill="#e4e4e4"/>
<rect x="556.9" y="555.8" width="2.4" height="64.40000000000009" fill="#e6e6e6"/>
</g>
<rect x="3.8" y="515.2" width="646.9000000000001" height="145.39999999999998" rx="72.69999999999999" ry="72.69999999999999" fill="none" stroke="#7c7c7c" stroke-width="1"/>
<line x1="678.5" y1="529" x2="678.5" y2="676" stroke="#161616" stroke-width="1.35"/>
<path d="M678.5,521 Q679.80,529.99 683.50,535.50 Q679.70,533.00 678.50,532.50 Q677.30,533.00 673.50,535.50 Q677.20,529.99 678.5,521 Z" fill="#141414" stroke="#141414" stroke-width="0.9" stroke-linejoin="round"/>
<path d="M678.5,684 Q677.20,675.01 673.50,669.50 Q677.30,672.00 678.50,672.50 Q679.70,672.00 683.50,669.50 Q679.80,675.01 678.5,684 Z" fill="#141414" stroke="#141414" stroke-width="0.9" stroke-linejoin="round"/>
<text x="721.18" y="614.10" font-size="22.5" font-weight="normal" fill="#161616" textLength="124.35" lengthAdjust="spacingAndGlyphs" stroke="#161616" stroke-width="0.25">21mm/0.8in</text>
<line x1="13.5" y1="697.8" x2="613" y2="697.8" stroke="#161616" stroke-width="1.35"/>
<path d="M5.5,697.8 Q14.49,696.50 20.00,692.80 Q17.50,696.60 17.00,697.80 Q17.50,699.00 20.00,702.80 Q14.49,699.10 5.5,697.8 Z" fill="#141414" stroke="#141414" stroke-width="0.9" stroke-linejoin="round"/>
<path d="M621,697.8 Q612.01,699.10 606.50,702.80 Q609.00,699.00 609.50,697.80 Q609.00,696.60 606.50,692.80 Q612.01,696.50 621,697.8 Z" fill="#141414" stroke="#141414" stroke-width="0.9" stroke-linejoin="round"/>
<text x="345.88" y="728.90" font-size="22.5" font-weight="normal" fill="#161616" textLength="144.35" lengthAdjust="spacingAndGlyphs" stroke="#161616" stroke-width="0.25">96.5mm/3.8in</text>
<g clip-path="url(#cb3)">
<rect x="4" y="738.5" width="431" height="145.5" fill="#d9d9d9"/>
<rect x="4" y="738.5" width="99.5" height="145.5" fill="url(#endL)"/>
<rect x="334.0" y="738.5" width="101.0" height="145.5" fill="url(#endR)"/>
<path d="M32,777.5 C24,777.5 23.00952996251287,773.5 21.01,764.5 L9.01,750.5 L-1,733.5 L440,733.5 L440,777.5 Z" fill="url(#rim3)"/>
<path d="M32,845 C24,845 23.00952996251287,849 21.01,858 L9.01,872 L-1,889 L440,889 L440,845 Z" fill="url(#rim3)"/>
<path d="M21.01,764.5 C23.00952996251287,773.5 24,777.5 32,777.5 L409,777.5" fill="none" stroke="#858585" stroke-width="1.3"/>
<path d="M21.01,858 C23.00952996251287,849 24,845 32,845 L409,845" fill="none" stroke="#8e8e8e" stroke-width="1.3"/>
<path d="M87.0,777.5 C87.0,764.5 97.5,754.0 110.5,754.0 C123.5,754.0 134.0,764.5 134.0,777.5 Z" fill="url(#domeT)" stroke="#b2b2b2" stroke-width="0.8"/>
<path d="M89.5,764.5 C86.0,769.5 87.5,776.0 97.5,776.7" fill="none" stroke="#8c8c8c" stroke-width="2.6" stroke-linecap="round"/>
<path d="M87.5,771.5 C87.5,775.5 91.5,776.7 101.5,776.9" fill="none" stroke="#686868" stroke-width="1.4" stroke-linecap="round"/>
<path d="M133.5,771.5 C133.5,775.5 129.5,776.7 119.5,776.9" fill="none" stroke="#8a8a8a" stroke-width="1.2" stroke-linecap="round"/>
<path d="M87.0,845 C87.0,858 97.5,869 110.5,869 C123.5,869 134.0,858 134.0,845 Z" fill="url(#domeB)" stroke="#b6b6b6" stroke-width="0.8"/>
<path d="M89.0,856 C86.0,852 87.5,846.5 97.5,845.8" fill="none" stroke="#909090" stroke-width="2.4" stroke-linecap="round"/>
<path d="M87.5,851 C87.5,847 91.5,845.8 101.5,845.6" fill="none" stroke="#6c6c6c" stroke-width="1.4" stroke-linecap="round"/>
<path d="M133.5,851 C133.5,847 129.5,845.8 119.5,845.6" fill="none" stroke="#7c7c7c" stroke-width="1.3" stroke-linecap="round"/>
<path d="M195.0,777.5 C195.0,764.5 205.5,754.0 218.5,754.0 C231.5,754.0 242.0,764.5 242.0,777.5 Z" fill="url(#domeT)" stroke="#b2b2b2" stroke-width="0.8"/>
<path d="M197.5,764.5 C194.0,769.5 195.5,776.0 205.5,776.7" fill="none" stroke="#8c8c8c" stroke-width="2.6" stroke-linecap="round"/>
<path d="M195.5,771.5 C195.5,775.5 199.5,776.7 209.5,776.9" fill="none" stroke="#686868" stroke-width="1.4" stroke-linecap="round"/>
<path d="M241.5,771.5 C241.5,775.5 237.5,776.7 227.5,776.9" fill="none" stroke="#8a8a8a" stroke-width="1.2" stroke-linecap="round"/>
<path d="M195.0,845 C195.0,858 205.5,869 218.5,869 C231.5,869 242.0,858 242.0,845 Z" fill="url(#domeB)" stroke="#b6b6b6" stroke-width="0.8"/>
<path d="M197.0,856 C194.0,852 195.5,846.5 205.5,845.8" fill="none" stroke="#909090" stroke-width="2.4" stroke-linecap="round"/>
<path d="M195.5,851 C195.5,847 199.5,845.8 209.5,845.6" fill="none" stroke="#6c6c6c" stroke-width="1.4" stroke-linecap="round"/>
<path d="M241.5,851 C241.5,847 237.5,845.8 227.5,845.6" fill="none" stroke="#7c7c7c" stroke-width="1.3" stroke-linecap="round"/>
<path d="M303.5,777.5 C303.5,764.5 314,754.0 327,754.0 C340,754.0 350.5,764.5 350.5,777.5 Z" fill="url(#domeT)" stroke="#b2b2b2" stroke-width="0.8"/>
<path d="M306,764.5 C302.5,769.5 304,776.0 314,776.7" fill="none" stroke="#8c8c8c" stroke-width="2.6" stroke-linecap="round"/>
<path d="M304,771.5 C304,775.5 308,776.7 318,776.9" fill="none" stroke="#686868" stroke-width="1.4" stroke-linecap="round"/>
<path d="M350,771.5 C350,775.5 346,776.7 336,776.9" fill="none" stroke="#8a8a8a" stroke-width="1.2" stroke-linecap="round"/>
<path d="M303.5,845 C303.5,858 314,869 327,869 C340,869 350.5,858 350.5,845 Z" fill="url(#domeB)" stroke="#b6b6b6" stroke-width="0.8"/>
<path d="M305.5,856 C302.5,852 304,846.5 314,845.8" fill="none" stroke="#909090" stroke-width="2.4" stroke-linecap="round"/>
<path d="M304,851 C304,847 308,845.8 318,845.6" fill="none" stroke="#6c6c6c" stroke-width="1.4" stroke-linecap="round"/>
<path d="M350,851 C350,847 346,845.8 336,845.6" fill="none" stroke="#7c7c7c" stroke-width="1.3" stroke-linecap="round"/>
<path d="M103.5,777.5 L102.3,770.5 L118.7,770.5 L117.5,777.5 Z" fill="url(#chanFadeT)"/>
<path d="M103.5,845 L102.3,852 L118.7,852 L117.5,845 Z" fill="url(#chanFadeB)"/>
<rect x="103.5" y="777.5" width="14.0" height="67.5" fill="url(#chanG)"/>
<path d="M211.5,777.5 L210.3,770.5 L226.7,770.5 L225.5,777.5 Z" fill="url(#chanFadeT)"/>
<path d="M211.5,845 L210.3,852 L226.7,852 L225.5,845 Z" fill="url(#chanFadeB)"/>
<rect x="211.5" y="777.5" width="14.0" height="67.5" fill="url(#chanG)"/>
<path d="M320.0,777.5 L318.8,770.5 L335.2,770.5 L334.0,777.5 Z" fill="url(#chanFadeT)"/>
<path d="M320.0,845 L318.8,852 L335.2,852 L334.0,845 Z" fill="url(#chanFadeB)"/>
<rect x="320.0" y="777.5" width="14.0" height="67.5" fill="url(#chanG)"/>
<rect x="117.8" y="778.2" width="93.4" height="66.1" rx="1.6" fill="#dbdbdb" stroke="#8a8a8a" stroke-width="0.6"/>
<rect x="225.8" y="778.2" width="93.9" height="66.1" rx="1.6" fill="#dbdbdb" stroke="#8a8a8a" stroke-width="0.6"/>
<rect x="100.3" y="779.5" width="2.2" height="63.5" fill="#e4e4e4"/>
<rect x="118.5" y="779.5" width="2.4" height="63.5" fill="#e6e6e6"/>
<rect x="208.3" y="779.5" width="2.2" height="63.5" fill="#e4e4e4"/>
<rect x="226.5" y="779.5" width="2.4" height="63.5" fill="#e6e6e6"/>
<rect x="316.8" y="779.5" width="2.2" height="63.5" fill="#e4e4e4"/>
<rect x="335.0" y="779.5" width="2.4" height="63.5" fill="#e6e6e6"/>
</g>
<rect x="4" y="738.5" width="431" height="145.5" rx="72.75" ry="72.75" fill="none" stroke="#7c7c7c" stroke-width="1"/>
<line x1="513.4" y1="768.3" x2="513.4" y2="915.5" stroke="#161616" stroke-width="1.35"/>
<path d="M513.4,760.3 Q514.70,769.29 518.40,774.80 Q514.60,772.30 513.40,771.80 Q512.20,772.30 508.40,774.80 Q512.10,769.29 513.4,760.3 Z" fill="#141414" stroke="#141414" stroke-width="0.9" stroke-linejoin="round"/>
<path d="M513.4,923.5 Q512.10,914.51 508.40,909.00 Q512.20,911.50 513.40,912.00 Q514.60,911.50 518.40,909.00 Q514.70,914.51 513.4,923.5 Z" fill="#141414" stroke="#141414" stroke-width="0.9" stroke-linejoin="round"/>
<text x="559.68" y="839.90" font-size="22.5" font-weight="normal" fill="#161616" textLength="124.56" lengthAdjust="spacingAndGlyphs" stroke="#161616" stroke-width="0.25">21mm/0.8in</text>
<g clip-path="url(#cb4)">
<rect x="3.3" y="935" width="207.39999999999998" height="146.70000000000005" fill="#d9d9d9"/>
<rect x="3.3" y="935" width="99.95" height="146.70000000000005" fill="url(#endL)"/>
<rect x="117.75" y="935" width="92.94999999999999" height="146.70000000000005" fill="url(#endR5)"/>
<path d="M31.3,973.3 C23.3,973.3 23.229606641598124,969.3 21.23,960.3 L9.23,946.3 L-1.7000000000000002,930 L215.7,930 L204.77,946.3 L192.77,960.3 C190.77039335840186,969.3 190.7,973.3 182.7,973.3 Z" fill="url(#rim4)"/>
<path d="M31.3,1043.3 C23.3,1043.3 23.143063496532186,1047.3 21.14,1056.3 L9.14,1070.3 L-1.7000000000000002,1086.7 L215.7,1086.7 L204.86,1070.3 L192.86,1056.3 C190.8569365034678,1047.3 190.7,1043.3 182.7,1043.3 Z" fill="url(#rim4)"/>
<path d="M21.23,960.3 C23.229606641598124,969.3 23.3,973.3 31.3,973.3 L182.7,973.3 C190.7,973.3 190.77039335840186,969.3 192.77,960.3" fill="none" stroke="#858585" stroke-width="1.3"/>
<path d="M21.14,1056.3 C23.143063496532186,1047.3 23.3,1043.3 31.3,1043.3 L182.7,1043.3 C190.7,1043.3 190.8569365034678,1047.3 192.86,1056.3" fill="none" stroke="#8e8e8e" stroke-width="1.3"/>
<path d="M87.0,973.3 C87.0,960.3 97.5,949.8 110.5,949.8 C123.5,949.8 134.0,960.3 134.0,973.3 Z" fill="url(#domeT)" stroke="#b2b2b2" stroke-width="0.8"/>
<path d="M89.5,960.3 C86.0,965.3 87.5,971.8 97.5,972.5" fill="none" stroke="#8c8c8c" stroke-width="2.6" stroke-linecap="round"/>
<path d="M87.5,967.3 C87.5,971.3 91.5,972.5 101.5,972.6999999999999" fill="none" stroke="#686868" stroke-width="1.4" stroke-linecap="round"/>
<path d="M133.5,967.3 C133.5,971.3 129.5,972.5 119.5,972.6999999999999" fill="none" stroke="#8a8a8a" stroke-width="1.2" stroke-linecap="round"/>
<path d="M87.0,1043.3 C87.0,1056.3 97.5,1067.3 110.5,1067.3 C123.5,1067.3 134.0,1056.3 134.0,1043.3 Z" fill="url(#domeB)" stroke="#b6b6b6" stroke-width="0.8"/>
<path d="M89.0,1054.3 C86.0,1050.3 87.5,1044.8 97.5,1044.1" fill="none" stroke="#909090" stroke-width="2.4" stroke-linecap="round"/>
<path d="M87.5,1049.3 C87.5,1045.3 91.5,1044.1 101.5,1043.8999999999999" fill="none" stroke="#6c6c6c" stroke-width="1.4" stroke-linecap="round"/>
<path d="M133.5,1049.3 C133.5,1045.3 129.5,1044.1 119.5,1043.8999999999999" fill="none" stroke="#7c7c7c" stroke-width="1.3" stroke-linecap="round"/>
<path d="M103.25,973.3 L102.05,966.3 L118.95,966.3 L117.75,973.3 Z" fill="url(#chanFadeT)"/>
<path d="M103.25,1043.3 L102.05,1050.3 L118.95,1050.3 L117.75,1043.3 Z" fill="url(#chanFadeB)"/>
<rect x="103.25" y="973.3" width="14.5" height="70.0" fill="url(#chanG)"/>
<rect x="100.05" y="975.3" width="2.2" height="66.0" fill="#e4e4e4"/>
<rect x="118.75" y="975.3" width="2.4" height="66.0" fill="#e6e6e6"/>
</g>
<rect x="3.3" y="935" width="207.39999999999998" height="146.70000000000005" rx="73.35000000000002" ry="73.35000000000002" fill="none" stroke="#7c7c7c" stroke-width="1"/>
<line x1="312.5" y1="946" x2="312.5" y2="1092" stroke="#161616" stroke-width="1.35"/>
<path d="M312.5,938 Q313.80,946.99 317.50,952.50 Q313.70,950.00 312.50,949.50 Q311.30,950.00 307.50,952.50 Q311.20,946.99 312.5,938 Z" fill="#141414" stroke="#141414" stroke-width="0.9" stroke-linejoin="round"/>
<path d="M312.5,1100 Q311.20,1091.01 307.50,1085.50 Q311.30,1088.00 312.50,1088.50 Q313.70,1088.00 317.50,1085.50 Q313.80,1091.01 312.5,1100 Z" fill="#141414" stroke="#141414" stroke-width="0.9" stroke-linejoin="round"/>
<text x="358.88" y="1024.10" font-size="22.5" font-weight="normal" fill="#161616" textLength="124.66" lengthAdjust="spacingAndGlyphs" stroke="#161616" stroke-width="0.25">21mm/0.8in</text>
<line x1="18" y1="1103.3" x2="199" y2="1103.3" stroke="#161616" stroke-width="1.35"/>
<path d="M10,1103.3 Q18.99,1102.00 24.50,1098.30 Q22.00,1102.10 21.50,1103.30 Q22.00,1104.50 24.50,1108.30 Q18.99,1104.60 10,1103.3 Z" fill="#141414" stroke="#141414" stroke-width="0.9" stroke-linejoin="round"/>
<path d="M207,1103.3 Q198.01,1104.60 192.50,1108.30 Q195.00,1104.50 195.50,1103.30 Q195.00,1102.10 192.50,1098.30 Q198.01,1102.00 207,1103.3 Z" fill="#141414" stroke="#141414" stroke-width="0.9" stroke-linejoin="round"/>
<text x="29.89" y="1136.40" font-size="22" font-weight="normal" fill="#161616" textLength="143.85" lengthAdjust="spacingAndGlyphs" stroke="#161616" stroke-width="0.25">28.5mm/1.1in</text>
<circle cx="974.4" cy="542.4" r="68.60000000000001" fill="none" stroke="#DA7E2E" stroke-width="3.7"/>
<g fill="none" stroke="#DA7E2E" stroke-width="2.8" stroke-linejoin="round"><rect x="959" y="491.5" width="31" height="23" rx="1.5"/><rect x="952.3" y="514.8" width="44.5" height="44.5" rx="1.5"/><rect x="966.3" y="559.5" width="17" height="17"/><rect x="969.3" y="576.5" width="11.5" height="21.5"/><line x1="967.5" y1="495" x2="967.5" y2="502.5"/><line x1="974.5" y1="495" x2="974.5" y2="502.5"/><line x1="981.5" y1="495" x2="981.5" y2="502.5"/></g>
<text x="914.04" y="644.80" font-size="23.5" font-weight="bold" fill="#CF7630" textLength="120.84" lengthAdjust="spacingAndGlyphs" stroke="#CF7630" stroke-width="0.45">Date Cable</text>
<circle cx="976.5" cy="777" r="68.60000000000001" fill="none" stroke="#DA7E2E" stroke-width="3.7"/>
<g fill="#EC8419" stroke="#EC8419" stroke-width="1.2" stroke-linejoin="round"><path d="M937.5,744 C937.5,740.5 940.5,739.2 944,739.4 C947,739.6 948.5,740.6 950,741.2 C956,743.2 962,746.5 965.5,752.5 C968.5,757.5 969.3,762 969.3,766 L969.3,783.5 C968.5,787.5 965,788.8 960,789.2 C955,789.5 948,789.2 943,788 C938.5,787 936.3,784 936.3,780 L936.3,748 Z"/><path d="M1015.8,733.5 C1015.5,730 1012,728.5 1008.5,728.8 C1005,729.2 1003.5,730.3 1002,731.2 C996,733.5 990,736.5 986.5,742.5 C983.6,747.5 982.8,752 982.8,756 L982.8,775 C983.5,778.5 987,779.6 992,780.1 C997,780.5 1004,780 1009,778.5 C1013.5,777.5 1015.9,774.5 1015.9,770.5 L1015.9,738 Z"/></g>
<g fill="#ffffff" stroke="none"><path d="M952.8,748.3 C960,749.2 965,755 965.2,763.5 C965.4,771.5 960.5,777.5 952.8,779.3 Z"/><path d="M999.3,739.6 C992,740.6 987,746 986.8,754 C986.6,761.5 991.5,767 999.3,768.7 Z"/></g>
<g fill="none" stroke="#EC8419" stroke-width="2.7" stroke-linecap="round" stroke-linejoin="round"><path d="M956.3,788 L956.6,808 C956.8,812.5 959,815.5 961.5,815.8 C964,815.5 967.8,812.5 968,808 L968.5,788"/><line x1="961.5" y1="816" x2="961.5" y2="835.5"/><path d="M984.3,779 L984.5,799 C984.7,803.5 987.5,806.5 990.5,806.7 C993.5,806.5 996,803.5 996.2,799 L996.3,780"/><line x1="990.5" y1="806.8" x2="990.5" y2="835"/></g>
<text x="878.54" y="881.60" font-size="23" font-weight="bold" fill="#CF7630" textLength="197.75" lengthAdjust="spacingAndGlyphs" stroke="#CF7630" stroke-width="0.45">Headphone Cable</text>
<circle cx="974.4" cy="1012.4" r="68.60000000000001" fill="none" stroke="#DA7E2E" stroke-width="3.7"/>
<g fill="none" stroke="#DA7E2E" stroke-width="2.6" stroke-linecap="round"><rect x="950" y="982" width="56" height="85" rx="27" ry="28"/><line x1="950.5" y1="1018.5" x2="1005.5" y2="1018.5"/><line x1="976.7" y1="982" x2="976.7" y2="1018"/><ellipse cx="977" cy="1001" rx="4.8" ry="7.6" fill="#fff"/><path d="M976.7,982 C977,976 976,972 972,972 C966,972 962,980 954,979 C946,978 940,972 940,967 C940,964 944,963 948,964" stroke-width="1.8" stroke-dasharray="3 1.2"/><path d="M956,1050 C960,1056 966,1060 972,1061" stroke-width="1.8" stroke-dasharray="2.5 1.5"/></g>
<text x="912.13" y="1110.60" font-size="22" font-weight="bold" fill="#CF7630" textLength="129.15" lengthAdjust="spacingAndGlyphs" stroke="#CF7630" stroke-width="0.45">Mouse Line</text>
</svg>
</body></html>
